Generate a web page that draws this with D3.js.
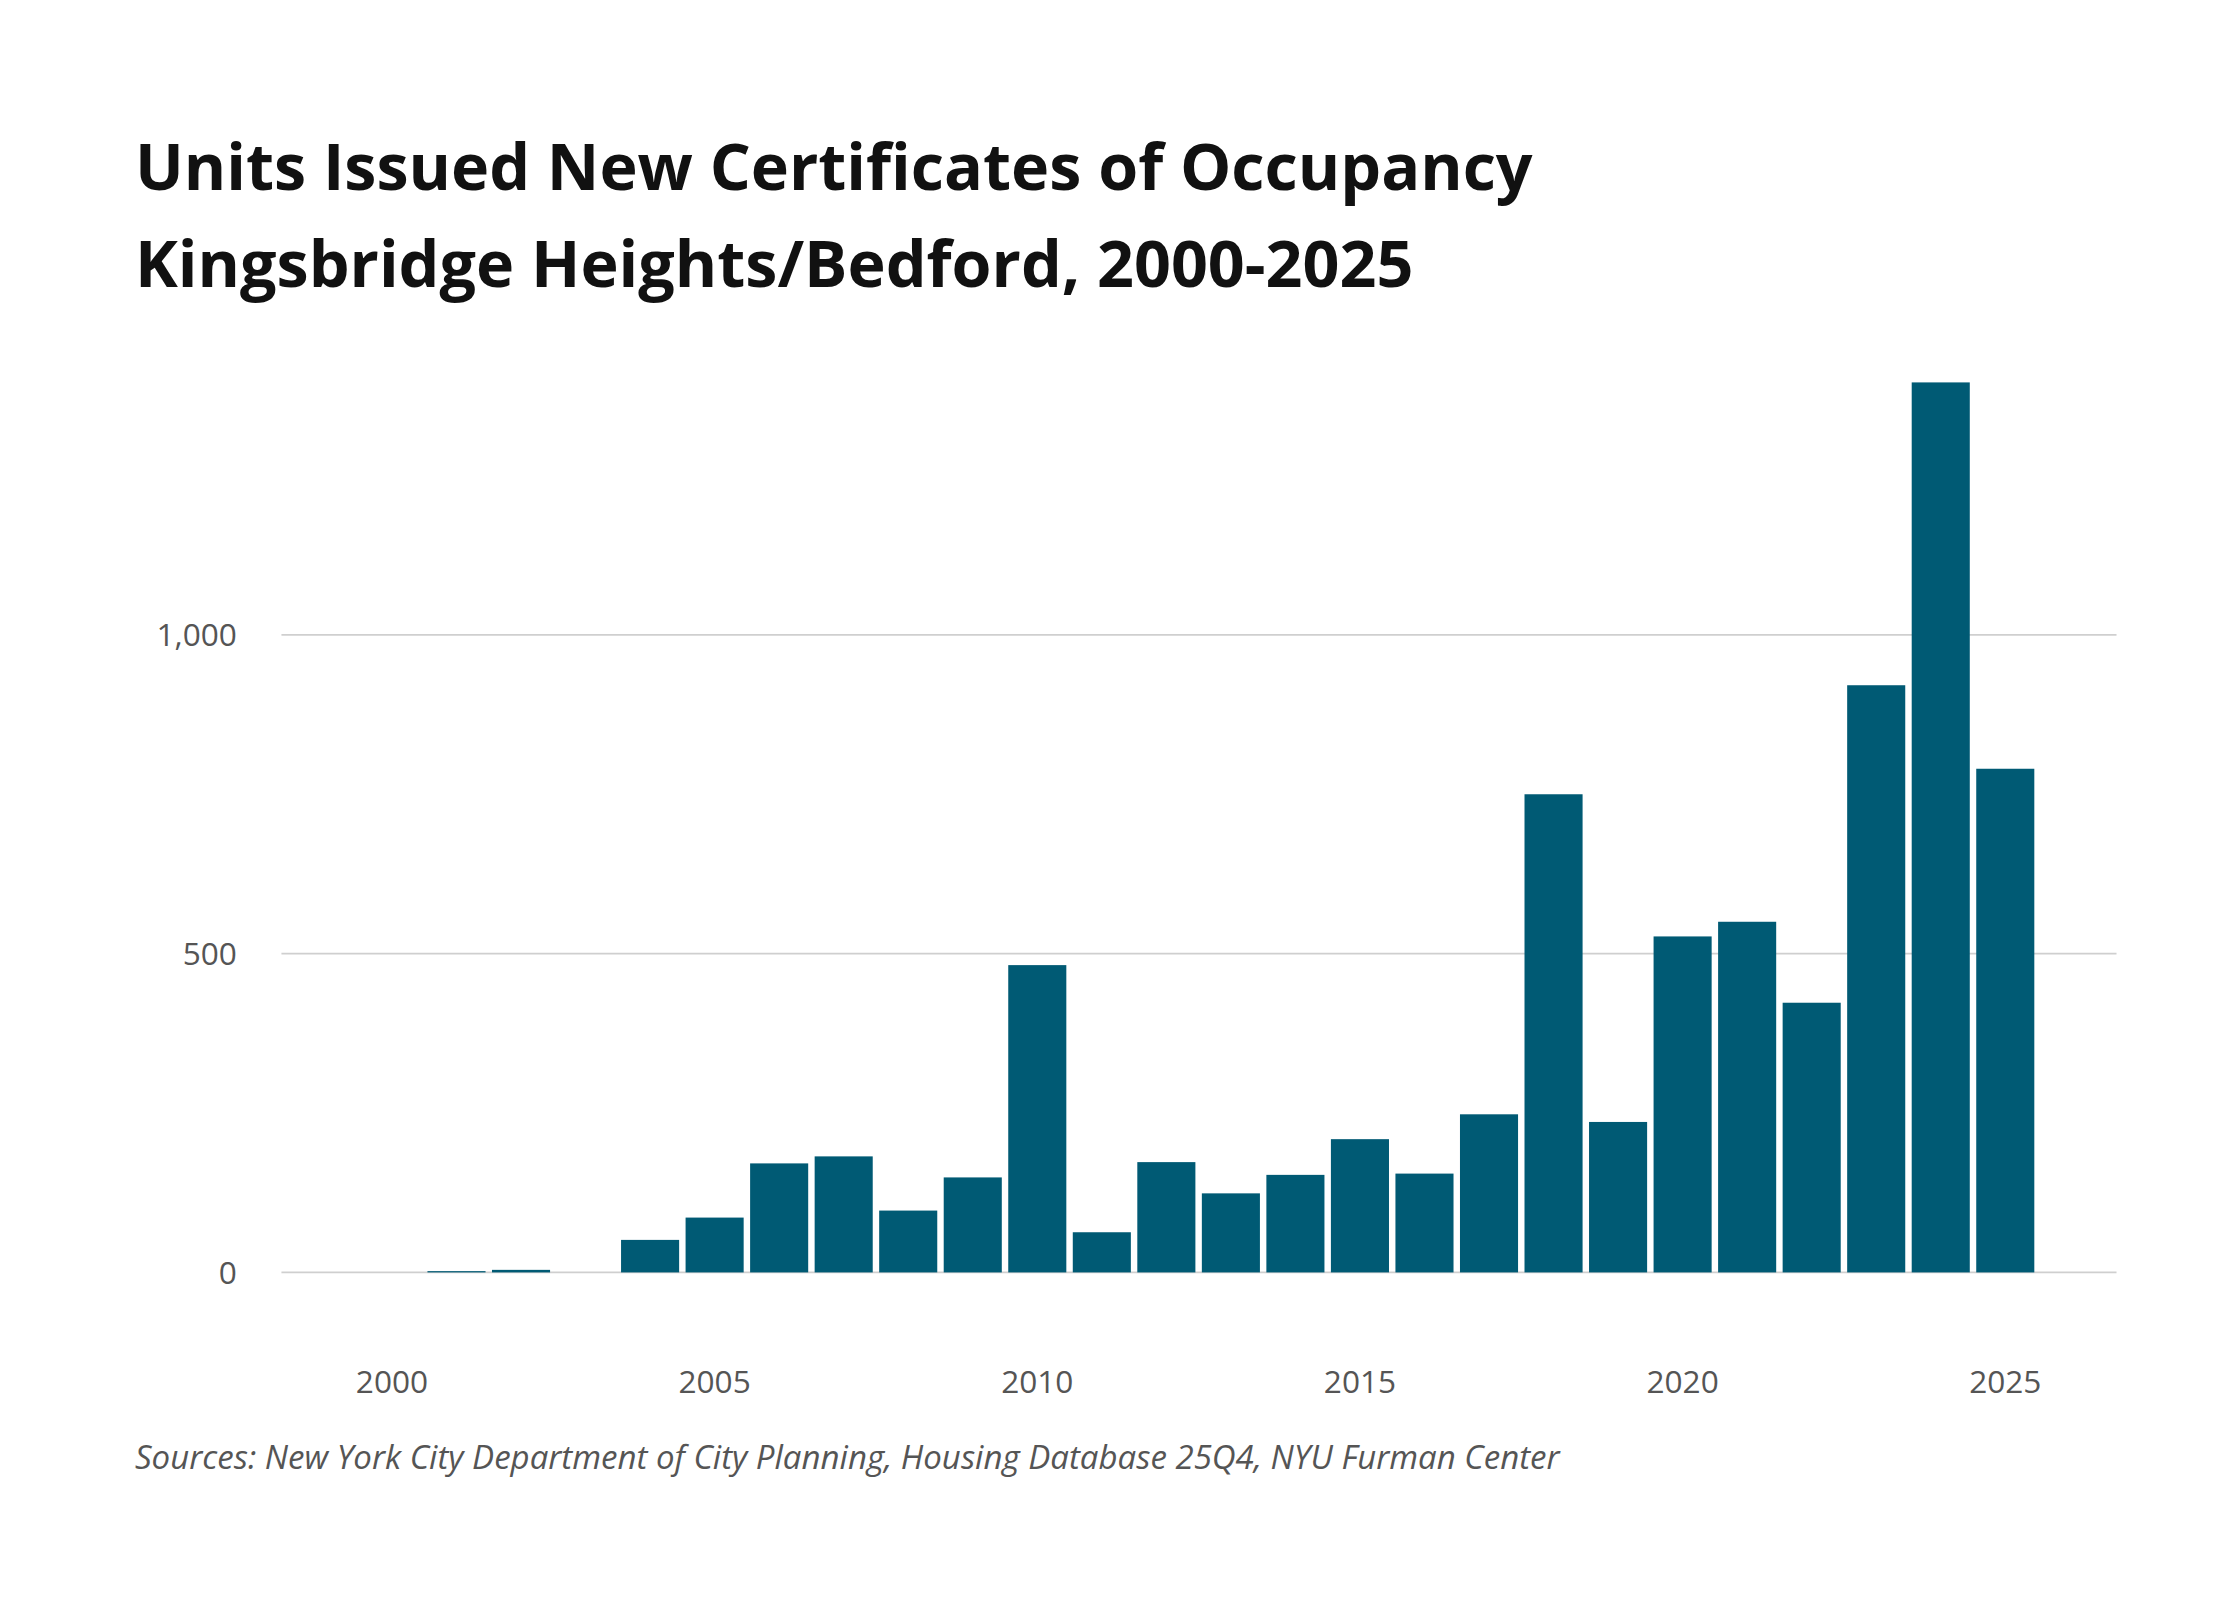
<!DOCTYPE html>
<html>
<head>
<meta charset="utf-8">
<script src="https://cdn.jsdelivr.net/npm/d3@7"></script>
<style>
  body { margin: 0; background: #fff; }
  text { font-family: "Open Sans", "Noto Sans", sans-serif; }
</style>
</head>
<body>
<div id="chart"></div>
<script>
// Data
let years = d3.range(2000, 2026)
let units = [0, 2, 4, 0, 51, 86, 171, 182, 97, 149, 482, 63, 173, 124, 153, 209, 155, 248, 750, 236, 527, 550, 423, 921, 1396, 790]
let yTicks = [0, 500, 1000]
let xTicks = [2000, 2005, 2010, 2015, 2020, 2025]

// Layout in 1560-wide units, scaled up to the window
let vbW = 1560, vbH = 1114
let svg = d3.select('#chart')
    .append('svg')
    .attr('width', 2240)
    .attr('height', 1600)
    .attr('viewBox', '0 0 ' + vbW + ' ' + vbH)

// Title
svg.append('text')
    .attr('x', 94).attr('y', 132)
    .attr('font-size', 45).attr('font-weight', 700).attr('fill', '#111')
    .text('Units Issued New Certificates of Occupancy')
svg.append('text')
    .attr('x', 94).attr('y', 200)
    .attr('font-size', 45).attr('font-weight', 700).attr('fill', '#111')
    .text('Kingsbridge Heights/Bedford, 2000-2025')

let x = d3.scaleBand()
    .domain(years)
    .range([250.5, 1419])
    .paddingInner(0.1)
    .paddingOuter(0.05)

let y = d3.scaleLinear()
    .domain([0, 1000])
    .range([886, 442])

// Gridlines
svg.append('g')
    .selectAll('line')
    .data(yTicks)
    .enter().append('line')
    .attr('x1', 196).attr('x2', 1474)
    .attr('y1', d => y(d)).attr('y2', d => y(d))
    .attr('stroke', '#cfcfcf')
    .attr('stroke-width', 1.2)

// Y labels
svg.append('g')
    .selectAll('text')
    .data(yTicks)
    .enter().append('text')
    .attr('x', 165)
    .attr('y', d => y(d) + 8)
    .attr('text-anchor', 'end')
    .attr('font-size', 22)
    .attr('fill', '#555')
    .text(d => d3.format(',')(d))

// Bars
svg.append('g')
    .selectAll('rect')
    .data(years)
    .enter().append('rect')
    .attr('x', d => x(d))
    .attr('width', x.bandwidth())
    .attr('y', (d, i) => y(units[i]))
    .attr('height', (d, i) => y(0) - y(units[i]))
    .attr('fill', '#005a74')

// X labels
svg.append('g')
    .selectAll('text')
    .data(xTicks)
    .enter().append('text')
    .attr('x', d => x(d) + x.bandwidth() / 2)
    .attr('y', 970)
    .attr('text-anchor', 'middle')
    .attr('font-size', 22)
    .attr('fill', '#555')
    .text(d => d)

// Source
svg.append('text')
    .attr('x', 94).attr('y', 1023)
    .attr('font-size', 23).attr('font-style', 'italic').attr('fill', '#555')
    .text('Sources: New York City Department of City Planning, Housing Database 25Q4, NYU Furman Center')
</script>
</body>
</html>
